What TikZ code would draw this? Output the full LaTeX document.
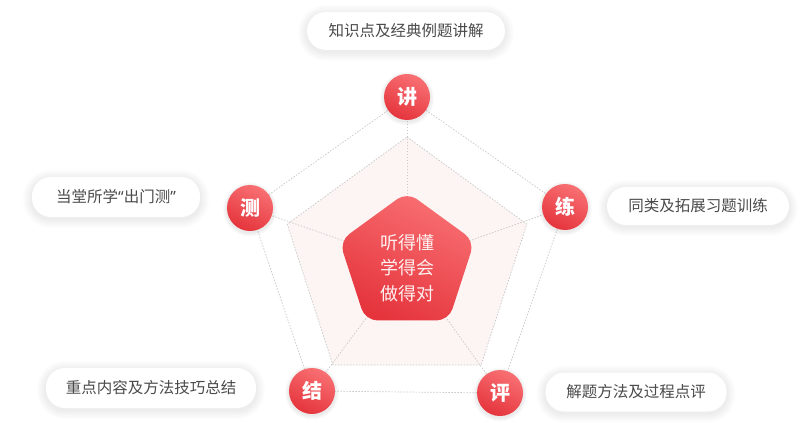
\documentclass[tikz,border=0pt]{standalone}
\usepackage{fontspec}
\setmainfont{Noto Sans CJK SC}
\newfontfamily\latq{Noto Sans}
\pgfdeclarelayer{background}
\pgfdeclarelayer{shadow}
\pgfsetlayers{background,shadow,main}
\definecolor{redA}{HTML}{F87073}
\definecolor{redB}{HTML}{E5343C}
\definecolor{txt}{HTML}{4A4A4A}
\definecolor{dashc}{HTML}{C8C8C8}
\definecolor{pinkfill}{HTML}{FCF5F3}
\tikzset{
  dashline/.style={draw=dashc, line width=0.7pt, dash pattern=on 1.5pt off 1.5pt},
  pill/.style={rounded corners=19pt, fill=white, text=txt, font=\fontsize{15.5}{15.5}\selectfont,
    inner sep=0pt},
  bubble/.style={circle, minimum size=46pt, inner sep=0pt, top color=redA, bottom color=redB,
    shading angle=-25, text=white, font=\fontsize{20}{20}\selectfont\bfseries}
}
\begin{document}
\begin{tikzpicture}[x=1pt,y=-1pt]
\begin{pgfonlayer}{background}
\useasboundingbox[fill=white] (0,0) rectangle (805,419);
\end{pgfonlayer}
\coordinate (c) at (407,263);
% inner pentagon
\coordinate (i1) at (407,137);
\coordinate (i2) at (526.8,224.1);
\coordinate (i3) at (481.1,364.9);
\coordinate (i4) at (332.9,364.9);
\coordinate (i5) at (287.2,224.1);
% circles
\node[bubble] (jiang) at (407,97) {讲};
\node[bubble] (lian) at (565,207) {练};
\node[bubble] (ping) at (500,393) {评};
\node[bubble] (jie) at (312,391) {结};
\node[bubble] (ce) at (250,208) {测};
\begin{pgfonlayer}{background}
\fill[pinkfill] (i1) -- (i2) -- (i3) -- (i4) -- (i5) -- cycle;
\draw[dashline] (i1) -- (i2) -- (i3) -- (i4) -- (i5) -- cycle;
\foreach \n in {jiang,lian,ping,jie,ce} \draw[dashline] (c) -- (\n);
\draw[dashline] (jiang) -- (lian);
\draw[dashline] (lian) -- (ping);
\draw[dashline] (ping) -- (jie);
\draw[dashline] (jie) -- (ce);
\draw[dashline] (ce) -- (jiang);
\end{pgfonlayer}
% center pentagon
\shade[top color=redA, bottom color=redB, shading angle=-25, rounded corners=12pt]
  (407,192) -- (474.5,241.1) -- (448.7,320.4) -- (365.3,320.4) -- (339.5,241.1) -- cycle;
\node[text=white!94!red, align=center, font=\fontsize{18}{25.5}\selectfont] (center) at (407,268)
  {听得懂\\学得会\\做得对};
% pills
\node[pill, minimum width=198pt, minimum height=38pt] (tb) at (406,31) {知识点及经典例题讲解};
\node[pill, minimum width=168pt, minimum height=40pt] (lb) at (116,197) {当堂所学{\latq “}出门测{\latq ”}};
\node[pill, minimum width=182pt, minimum height=38pt] (rb) at (698,206) {同类及拓展习题训练};
\node[pill, minimum width=210pt, minimum height=40pt] (blb) at (151,388) {重点内容及方法技巧总结};
\node[pill, minimum width=181pt, minimum height=39pt] (brb) at (636,392) {解题方法及过程点评};
% soft shadows
\begin{pgfonlayer}{shadow}
\foreach \p in {tb,lb,rb,blb,brb}{
  \foreach \i in {1,...,9}{
    \pgfmathsetmacro\rr{19+\i}
    \fill[black, opacity=0.009, rounded corners=\rr pt]
      ([xshift=-\i pt, yshift=-\i pt-2pt]\p.south west) rectangle ([xshift=\i pt, yshift=\i pt-2pt]\p.north east);
  }
}
\foreach \p in {jiang,lian,ping,jie,ce}{
  \foreach \i in {1,...,4}{
    \fill[black, opacity=0.02] ([yshift=-1.5pt]\p.center) circle[radius=23pt+\i pt];
  }
}
\end{pgfonlayer}
\end{tikzpicture}
\end{document}
